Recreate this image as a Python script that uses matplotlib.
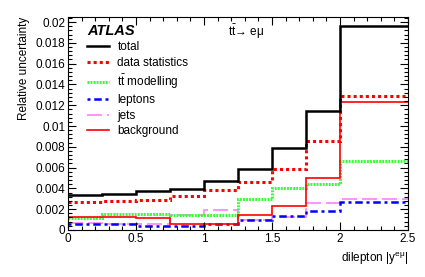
import numpy as np
import matplotlib.pyplot as plt
from matplotlib.ticker import MultipleLocator, FuncFormatter
from matplotlib.lines import Line2D

plt.rcParams['font.family'] = ['Liberation Sans', 'DejaVu Sans']

# bin edges in dilepton |y|
edges = [0, 0.25, 0.5, 0.75, 1.0, 1.25, 1.5, 1.75, 2.0, 2.5]

# relative uncertainties
total = [0.0034, 0.0035, 0.0037, 0.0039, 0.0047, 0.0059, 0.0079, 0.0114, 0.0196]
data_stat = [0.0027, 0.0028, 0.0029, 0.0033, 0.0038, 0.0046, 0.0059, 0.0086, 0.0129]
tt_model = [0.0011, 0.0015, 0.0015, 0.0014, 0.0014, 0.0030, 0.0040, 0.0044, 0.0066]
leptons = [0.0006, 0.0006, 0.0004, 0.0004, 0.00055, 0.0010, 0.00135, 0.0018, 0.0027]
jets = [0.0007, 0.0006, 0.0006, 0.0014, 0.0019, 0.00095, 0.0012, 0.0026, 0.0030]
background = [0.0012, 0.0012, 0.0011, 0.00055, 0.0006, 0.00145, 0.0023, 0.0050, 0.0123]

fig = plt.figure(figsize=(4.25, 2.77), dpi=100)
ax = fig.add_axes([0.16, 0.17, 0.80, 0.769])

ax.stairs(jets, edges, color='#ff80ff', lw=1.2, ls=(0, (9, 3)), baseline=None)
ax.stairs(leptons, edges, color='#0000ff', lw=1.8, ls=(0, (1.2, 1.5, 3, 1.5)), baseline=None)
ax.stairs(tt_model, edges, color='#33ff33', lw=2.2, ls=(0, (0.6, 0.4)), baseline=None)
ax.stairs(background, edges, color='#ff0000', lw=1.2, baseline=None)
ax.stairs(data_stat, edges, color='#ff0000', lw=2.2, ls=(0, (1, 1)), baseline=None)
ax.stairs(total, edges, color='black', lw=1.8, baseline=None)

ax.set_xlim(0, 2.5)
ax.set_ylim(0, 0.0205)

ax.xaxis.set_major_locator(MultipleLocator(0.5))
ax.xaxis.set_minor_locator(MultipleLocator(0.1))
ax.yaxis.set_major_locator(MultipleLocator(0.002))
ax.yaxis.set_minor_locator(MultipleLocator(0.0004))
ax.xaxis.set_major_formatter(FuncFormatter(lambda v, p: '%g' % round(v, 3)))
ax.yaxis.set_major_formatter(FuncFormatter(lambda v, p: '%g' % round(v, 4)))
ax.tick_params(which='both', direction='in', top=True, right=True, labelsize=8.5, pad=2)
ax.tick_params(which='major', length=6, width=0.8)
ax.tick_params(which='minor', length=3, width=0.8)

ax.set_xlabel('dilepton |y$\\mathregular{^{eμ}}$|', fontsize=8.5, loc='right')
ax.set_ylabel('Relative uncertainty', fontsize=8.5, loc='top')

# legend drawn by hand in ROOT style
ax.text(0.058, 0.935, 'ATLAS', transform=ax.transAxes, fontsize=10.5,
        fontweight='bold', fontstyle='italic', va='center')
ax.text(0.47, 0.93, r'$\mathregular{t\bar{t}}$→ eμ', transform=ax.transAxes,
        fontsize=8.5, va='center')
handles = [
    Line2D([], [], color='black', lw=1.8),
    Line2D([], [], color='#ff0000', lw=2.2, ls=(0, (1, 1))),
    Line2D([], [], color='#33ff33', lw=2.2, ls=(0, (0.6, 0.4))),
    Line2D([], [], color='#0000ff', lw=1.8, ls=(0, (1.2, 1.5, 3, 1.5))),
    Line2D([], [], color='#ff80ff', lw=1.2, ls=(0, (9, 3))),
    Line2D([], [], color='#ff0000', lw=1.2),
]
labels = ['total', 'data statistics', r'$\mathregular{t\bar{t}}$ modelling', 'leptons', 'jets', 'background']
leg = ax.legend(handles, labels, loc='upper left', bbox_to_anchor=(0.055, 0.885),
                frameon=False, fontsize=8.5, handlelength=1.9, handletextpad=0.7,
                labelspacing=0.3, borderpad=0, borderaxespad=0)

fig.savefig('out.png', dpi=100)
